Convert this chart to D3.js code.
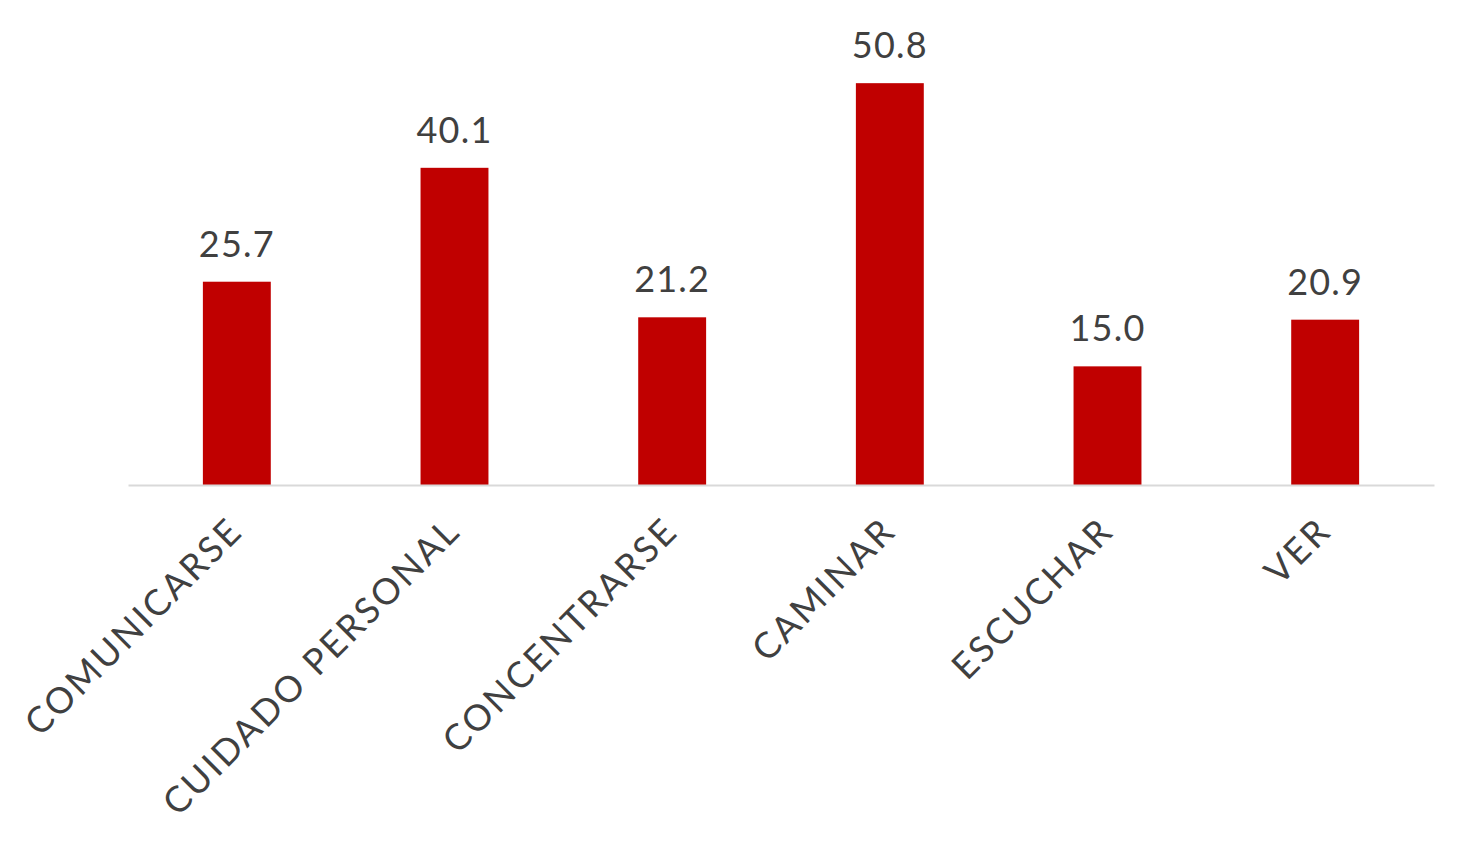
<!DOCTYPE html>
<html><head><meta charset="utf-8">
<script src="https://cdn.jsdelivr.net/npm/d3@7"></script>
<style>body{margin:0;background:#fff}svg{display:block}</style>
</head><body>
<script>
const categories = ["COMUNICARSE","CUIDADO PERSONAL","CONCENTRARSE","CAMINAR","ESCUCHAR","VER"];
const values = [25.7, 40.1, 21.2, 50.8, 15.0, 20.9];
const valueLabels = ["25.7","40.1","21.2","50.8","15.0","20.9"];

const W = 1468, H = 844;
const left = 128, right = 1434, baseline = 485;
const svg = d3.select("body").append("svg").attr("width", W).attr("height", H);

const x = d3.scaleBand().domain(categories).range([left, right]).paddingInner(0.688).paddingOuter(0.344);
const y = d3.scaleLinear().domain([0, 60]).range([baseline, baseline - 60 * 7.91]);

const font = "Lato, 'Noto Sans', sans-serif";

svg.selectAll("rect.bar").data(values).enter().append("rect")
  .attr("x", (d, i) => x(categories[i]))
  .attr("y", d => y(d))
  .attr("width", x.bandwidth())
  .attr("height", d => y(0) - y(d))
  .attr("fill", "#C00000");

const axis = d3.axisBottom(x).tickSize(0).tickFormat("");
const g = svg.append("g").attr("transform", `translate(0,${baseline})`).call(axis);
g.select(".domain").attr("stroke", "#d9d9d9").attr("stroke-width", 2);

svg.selectAll("text.val").data(values).enter().append("text")
  .attr("x", (d, i) => x(categories[i]) + x.bandwidth() / 2)
  .attr("y", d => y(d) - 25)
  .attr("text-anchor", "middle")
  .attr("font-family", font)
  .attr("font-size", 36)
  .attr("letter-spacing", 1.2)
  .attr("fill", "#404040")
  .text((d, i) => valueLabels[i]);

svg.selectAll("text.cat").data(categories).enter().append("text")
  .attr("transform", d => `translate(${x(d) + x.bandwidth() / 2 + 8},${baseline + 48}) rotate(-45)`)
  .attr("text-anchor", "end")
  .attr("font-family", font)
  .attr("font-size", 36)
  .attr("letter-spacing", 2.6)
  .attr("fill", "#404040")
  .text(d => d);
</script>
</body></html>
